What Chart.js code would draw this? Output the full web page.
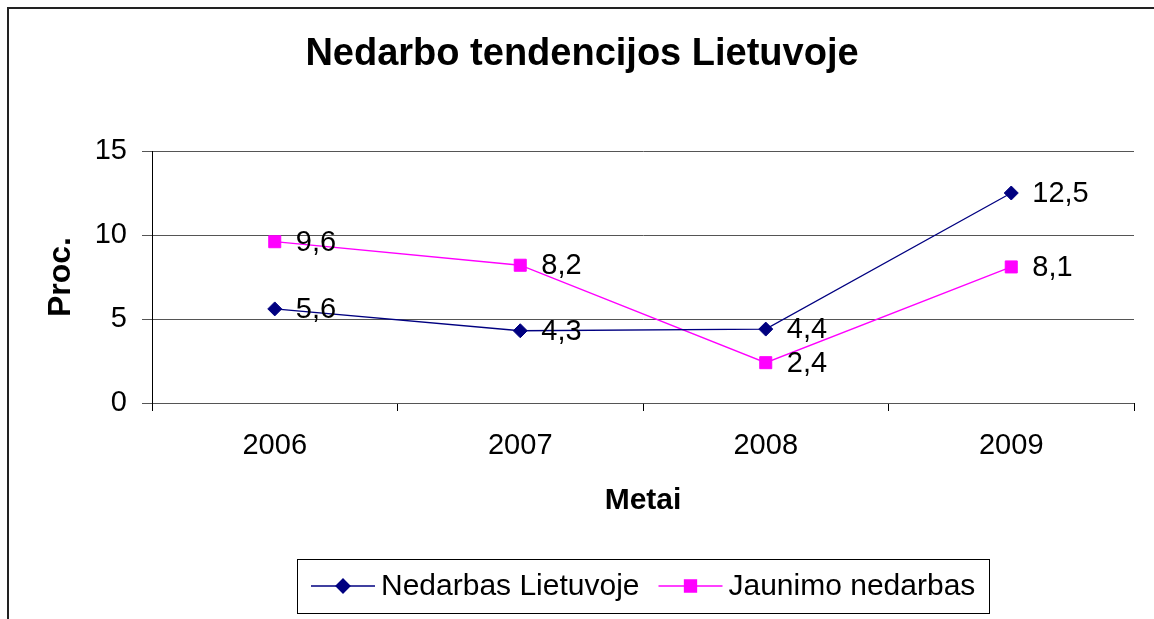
<!DOCTYPE html>
<html>
<head>
<meta charset="utf-8">
<script src="https://cdn.jsdelivr.net/npm/chart.js@4.4.1/dist/chart.umd.min.js"></script>
<style>
  html, body { margin: 0; padding: 0; background: #fff; overflow: hidden; }
  #frame { position: absolute; left: 7px; top: 7px; width: 1200px; height: 700px; border: 2px solid #222; }
  #wrap { position: absolute; left: 0; top: 0; width: 1154px; height: 619px; }
</style>
</head>
<body>
<div id="frame"></div>
<div id="wrap"><canvas id="chart" width="1154" height="619"></canvas></div>
<script>
// Data
const years = ['2006', '2007', '2008', '2009'];
const nedarbasLietuvoje = [5.6, 4.3, 4.4, 12.5];
const jaunimoNedarbas = [9.6, 8.2, 2.4, 8.1];
const yTicks = [0, 5, 10, 15];

const FONT = "Arial, 'Liberation Sans', sans-serif";

// Value labels to the right of each point
const valueLabels = {
  id: 'valueLabels',
  afterDatasetsDraw(chart) {
    const ctx = chart.ctx;
    ctx.save();
    ctx.font = '29px ' + FONT;
    ctx.fillStyle = '#000';
    ctx.textBaseline = 'middle';
    ctx.textAlign = 'left';
    chart.data.datasets.forEach((ds, i) => {
      chart.getDatasetMeta(i).data.forEach((pt, j) => {
        const txt = ds.data[j].toFixed(1).replace('.', ',');
        ctx.fillText(txt, pt.x + 21, pt.y + 1);
      });
    });
    ctx.restore();
  }
};

// Boxed legend with line + marker samples
const boxLegend = {
  id: 'boxLegend',
  afterDraw(chart) {
    const ctx = chart.ctx;
    ctx.save();
    ctx.font = '30px ' + FONT;
    const lineLen = 64, gapText = 6, gapItem = 19, pad = 14;
    const items = chart.data.datasets.map(ds => ({ ds, w: ctx.measureText(ds.label).width }));
    let total = pad * 2;
    items.forEach((it, i) => { total += lineLen + gapText + it.w + (i ? gapItem : 0); });
    const cx = (chart.chartArea.left + chart.chartArea.right) / 2;
    const top = 559, h = 54;
    const left = Math.round(cx - total / 2);
    ctx.strokeStyle = '#000';
    ctx.lineWidth = 1;
    ctx.strokeRect(left + 0.5, top + 0.5, Math.round(total), h);
    const cy = top + h / 2;
    let x = left + pad;
    items.forEach((it, i) => {
      if (i) x += gapItem;
      ctx.strokeStyle = it.ds.borderColor;
      ctx.lineWidth = 1.3;
      ctx.beginPath();
      ctx.moveTo(x, cy);
      ctx.lineTo(x + lineLen, cy);
      ctx.stroke();
      ctx.fillStyle = it.ds.pointBackgroundColor;
      Chart.helpers.drawPoint(ctx, {
        pointStyle: it.ds.pointStyle, radius: it.ds.pointRadius, borderWidth: 1
      }, x + lineLen / 2, cy);
      ctx.fill();
      x += lineLen + gapText;
      ctx.fillStyle = '#000';
      ctx.textBaseline = 'middle';
      ctx.fillText(it.ds.label, x, cy + 1);
      x += it.w;
    });
    ctx.restore();
  }
};

new Chart(document.getElementById('chart'), {
  type: 'line',
  data: {
    labels: years,
    datasets: [
      {
        label: 'Nedarbas Lietuvoje',
        data: nedarbasLietuvoje,
        borderColor: '#000080',
        backgroundColor: '#000080',
        pointBackgroundColor: '#000080',
        pointBorderColor: '#000080',
        pointStyle: 'rectRot',
        pointRadius: 7,
        pointBorderWidth: 1,
        borderWidth: 1.3,
        tension: 0
      },
      {
        label: 'Jaunimo nedarbas',
        data: jaunimoNedarbas,
        borderColor: '#FF00FF',
        backgroundColor: '#FF00FF',
        pointBackgroundColor: '#FF00FF',
        pointBorderColor: '#FF00FF',
        pointStyle: 'rect',
        pointRadius: 8.5,
        pointBorderWidth: 1,
        borderWidth: 1.3,
        tension: 0
      }
    ]
  },
  options: {
    responsive: false,
    animation: false,
    layout: { padding: { left: 30, right: 20, top: 0, bottom: 86 } },
    plugins: {
      legend: { display: false },
      tooltip: { enabled: false },
      title: {
        display: true,
        text: 'Nedarbo tendencijos Lietuvoje',
        color: '#000',
        font: { family: FONT, size: 38, weight: 'bold' },
        padding: { top: 32, bottom: 73.4 }
      }
    },
    scales: {
      x: {
        offset: true,
        afterFit(scale) { scale.height = 130; },
        grid: { offset: true, drawOnChartArea: false, tickLength: 8, color: '#000' },
        border: { display: false },
        ticks: { color: '#000', font: { family: FONT, size: 29 }, padding: 18 },
        title: {
          display: true, text: 'Metai', color: '#000',
          font: { family: FONT, size: 30, weight: 'bold' },
          padding: { top: 0, bottom: 14 }
        }
      },
      y: {
        min: 0,
        max: 15,
        afterFit(scale) { scale.width = 122; },
        afterBuildTicks(scale) { scale.ticks = yTicks.map(v => ({ value: v })); },
        grid: { color: '#555', tickLength: 10, lineWidth: 1 },
        border: { display: true, color: '#000', width: 1 },
        ticks: { color: '#000', font: { family: FONT, size: 29 }, padding: 15 },
        title: {
          display: true, text: 'Proc.', color: '#000',
          font: { family: FONT, size: 32, weight: 'bold' },
          padding: { top: 12, bottom: 0 }
        }
      }
    }
  },
  plugins: [valueLabels, boxLegend]
});
</script>
</body>
</html>
